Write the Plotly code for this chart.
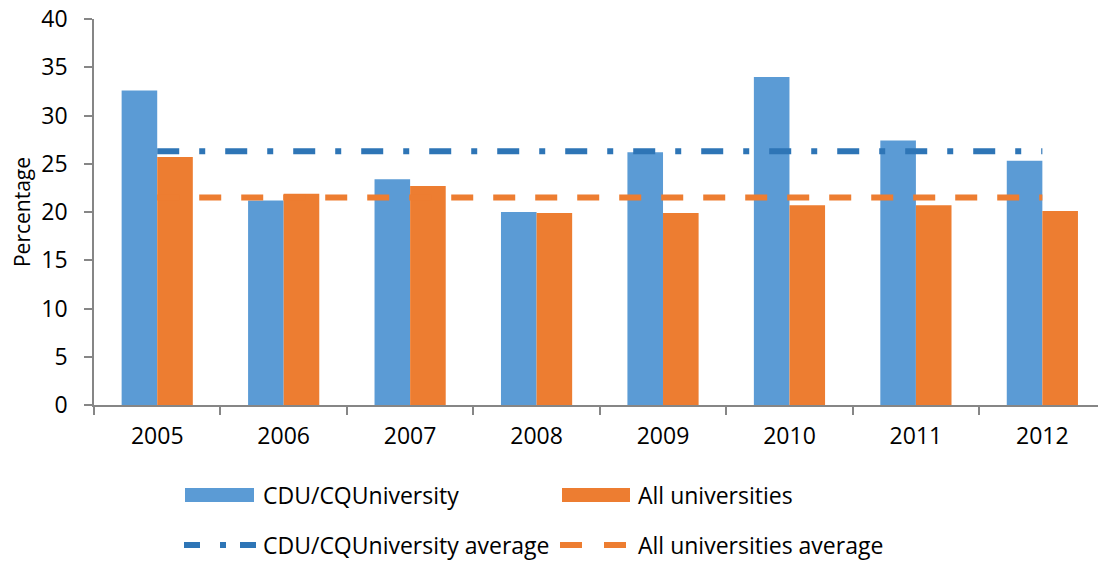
import plotly.graph_objects as go

years = ["2005", "2006", "2007", "2008", "2009", "2010", "2011", "2012"]
cdu = [32.6, 21.2, 23.4, 20.0, 26.2, 34.0, 27.4, 25.3]
all_unis = [25.7, 21.9, 22.7, 19.9, 19.9, 20.7, 20.7, 20.1]
cdu_avg = 26.3
all_avg = 21.5
y_ticks = [0, 5, 10, 15, 20, 25, 30, 35, 40]

BLUE = "#5B9BD5"
ORANGE = "#ED7D31"
BLUE_DARK = "#2E75B6"
FONT = "Open Sans"

W, H = 1098, 562
L, R, T, B = 94, 0, 19, 157

fig = go.Figure()
fig.add_trace(go.Bar(x=years, y=cdu, name="CDU/CQUniversity", marker=dict(color=BLUE, line=dict(width=0)), showlegend=False))
fig.add_trace(go.Bar(x=years, y=all_unis, name="All universities", marker=dict(color=ORANGE, line=dict(width=0)), showlegend=False))
fig.add_trace(go.Scatter(x=years, y=[cdu_avg] * len(years), mode="lines", name="CDU/CQUniversity average",
                         line=dict(color=BLUE_DARK, width=6, dash="22px,20px,6px,20px"), showlegend=False))
fig.add_trace(go.Scatter(x=years, y=[all_avg] * len(years), mode="lines", name="All universities average",
                         line=dict(color=ORANGE, width=6, dash="22px,20px"), showlegend=False))

pw = W - L - R
ph = H - T - B


def px(x):
    return (x - L) / pw


def py(y):
    return (H - B - y) / ph


shapes = []
annotations = []
# legend row 1: bar swatches
shapes.append(dict(type="rect", xref="paper", yref="paper", x0=px(185), x1=px(254), y0=py(502), y1=py(488),
                   fillcolor=BLUE, line=dict(width=0)))
shapes.append(dict(type="rect", xref="paper", yref="paper", x0=px(562), x1=px(630), y0=py(502), y1=py(488),
                   fillcolor=ORANGE, line=dict(width=0)))
# legend row 2: line samples
shapes.append(dict(type="line", xref="paper", yref="paper", x0=px(184), x1=px(256), y0=py(545), y1=py(545),
                   line=dict(color=BLUE_DARK, width=6, dash="16px,20px,6px,14px")))
shapes.append(dict(type="line", xref="paper", yref="paper", x0=px(560), x1=px(626), y0=py(545), y1=py(545),
                   line=dict(color=ORANGE, width=6, dash="22px,22px")))

legend_items = [("CDU/CQUniversity", 261, 495), ("All universities", 636, 495),
                ("CDU/CQUniversity average", 261, 545), ("All universities average", 636, 545)]
for text, x, y in legend_items:
    annotations.append(dict(text=text, xref="paper", yref="paper", x=px(x), y=py(y), xanchor="left",
                            yanchor="middle", showarrow=False, font=dict(family=FONT, size=23, color="#000000")))

fig.update_layout(
    width=W, height=H,
    margin=dict(l=L, r=R, t=T, b=B),
    paper_bgcolor="white", plot_bgcolor="white",
    barmode="group", bargap=0.437, bargroupgap=0,
    font=dict(family=FONT, size=23, color="#000000"),
    shapes=shapes, annotations=annotations,
    showlegend=False,
)
fig.update_xaxes(type="category", range=[-0.5, 7.44], showline=True, linecolor="#868686", linewidth=1.5,
                 ticks="outside", tickson="boundaries", ticklen=8, tickcolor="#868686", tickwidth=1.5,
                 showgrid=False, tickfont=dict(family=FONT, size=23), ticklabelstandoff=10)
fig.update_yaxes(range=[0, 40], tickvals=y_ticks, showline=True, linecolor="#868686", linewidth=1.5,
                 ticks="outside", ticklen=8, tickcolor="#868686", tickwidth=1.5, showgrid=False, zeroline=False,
                 tickfont=dict(family=FONT, size=23), ticklabelstandoff=12, ticklabeloverflow="allow",
                 title=dict(text="Percentage", font=dict(family=FONT, size=21), standoff=5))

fig.write_html("out.html", config={"displayModeBar": False},
               post_script="document.body.style.margin='0px';")
